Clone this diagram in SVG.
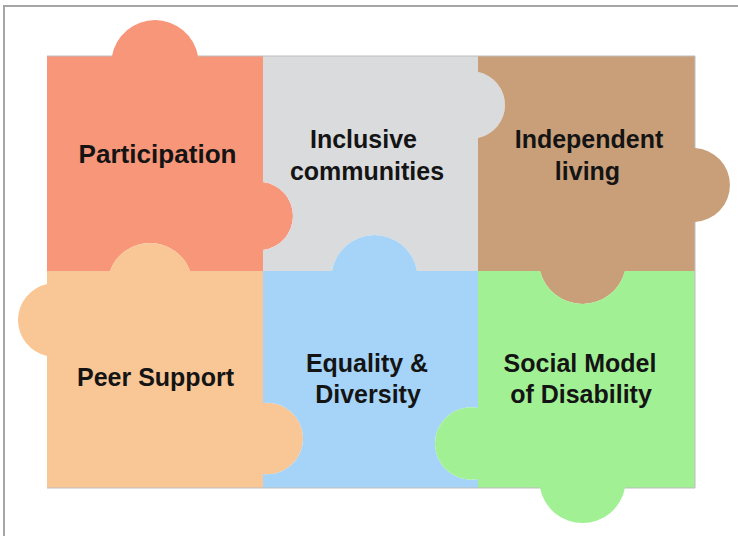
<svg xmlns="http://www.w3.org/2000/svg" width="738" height="536" viewBox="0 0 738 536">
<style>
.lbl{font-family:"Liberation Sans",Arial,sans-serif;font-weight:bold;font-size:25px;fill:#141414;text-anchor:middle}
.piece{stroke:none}
</style>
<rect x="0" y="0" width="738" height="536" fill="#ffffff"/>
<rect x="4" y="6" width="800" height="600" fill="none" stroke="#a6a6a6" stroke-width="2"/>
<g id="participation">
<path class="piece" fill="#f8967a" d="M47,56 L112,56 A43.7,43.7 0 0 1 198,56 L263,56 L263,182 A34.27,34.27 0 0 1 263,250 L263,271 L190,271 A42.57,42.57 0 0 0 110,271 L47,271 Z"/>
<text class="lbl" x="157.5" y="163" textLength="158" lengthAdjust="spacingAndGlyphs">Participation</text>
</g>
<g id="inclusive">
<path class="piece" fill="#dadbdd" d="M263,56 L478,56 L478,72 A33.67,33.67 0 0 1 478,138 L478,271 L417,271 A43.09,43.09 0 0 0 332,271 L263,271 L263,250 A34.27,34.27 0 0 0 263,182 Z"/>
<text class="lbl" x="363.5" y="148">Inclusive</text>
<text class="lbl" x="367" y="180">communities</text>
</g>
<g id="independent">
<path class="piece" fill="#c99f79" d="M478,56 L695,56 L695,148 A37.06,37.06 0 0 1 695,222 L695,271 L625,271 A43.87,43.87 0 0 1 540,271 L478,271 L478,138 A33.67,33.67 0 0 0 478,72 Z"/>
<text class="lbl" x="589" y="148">Independent</text>
<text class="lbl" x="587.5" y="180">living</text>
</g>
<g id="peer">
<path class="piece" fill="#f9c796" d="M47,271 L110,271 A42.57,42.57 0 0 1 190,271 L263,271 L263,403 A35.76,35.76 0 1 1 263,474 L263,488 L47,488 L47,356 A36.84,36.84 0 0 1 47,284 Z"/>
<text class="lbl" x="155.5" y="386">Peer Support</text>
</g>
<g id="equality">
<path class="piece" fill="#a6d4f8" d="M263,271 L332,271 A43.09,43.09 0 0 1 417,271 L478,271 L478,408 A36.15,36.15 0 1 0 478,479 L478,488 L263,488 L263,474 A35.76,35.76 0 1 0 263,403 Z"/>
<text class="lbl" x="367" y="372">Equality &amp;</text>
<text class="lbl" x="368" y="403">Diversity</text>
</g>
<g id="social">
<path class="piece" fill="#a2f094" d="M478,271 L540,271 A43.87,43.87 0 0 0 625,271 L695,271 L695,488 L625,488 A43.3,43.3 0 0 1 540,488 L478,488 L478,479 A36.15,36.15 0 1 1 478,408 Z"/>
<text class="lbl" x="580" y="372">Social Model</text>
<text class="lbl" x="581" y="403">of Disability</text>
</g>
<g id="outline" fill="none" stroke="#bdbdbd" stroke-width="1">
<path d="M47,56 L112,56 M198,56 L695,56 L695,148 M695,222 L695,488 L625,488 M540,488 L47,488"/>
</g>
</svg>
